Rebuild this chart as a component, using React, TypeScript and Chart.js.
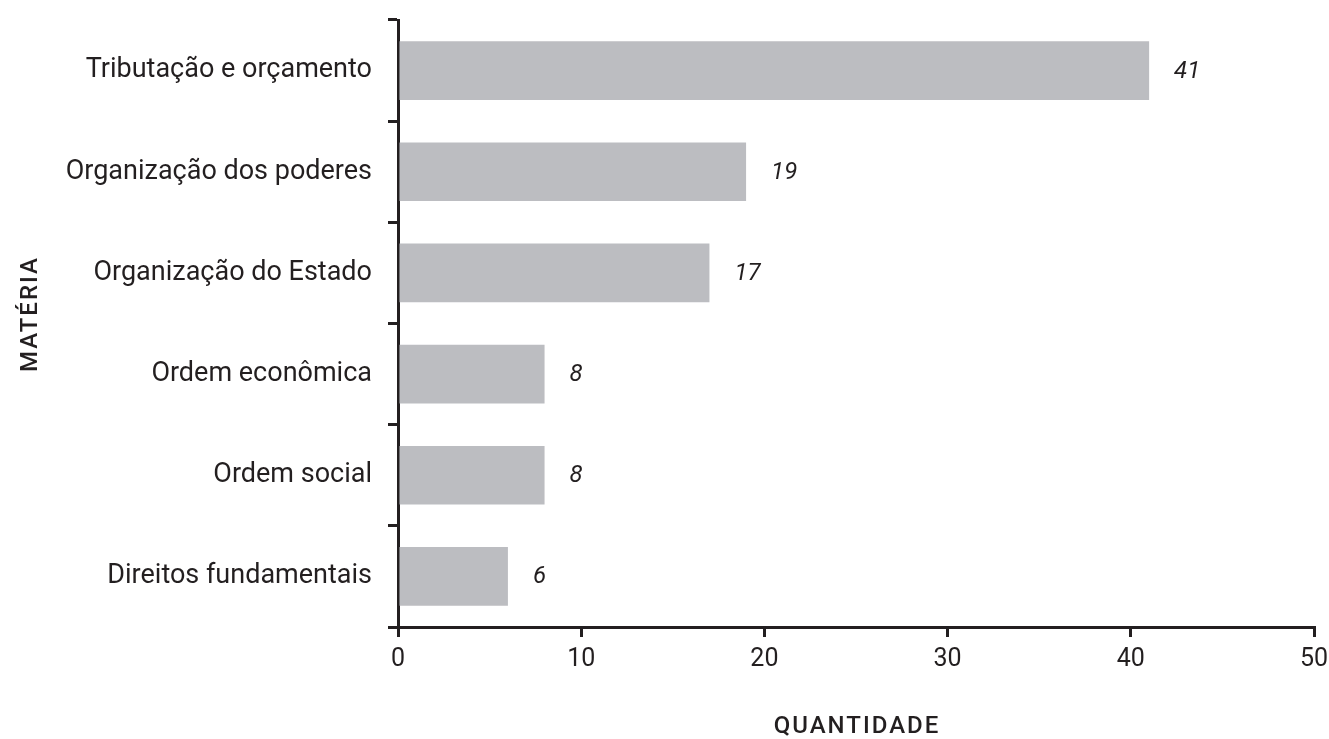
import React, { useEffect, useRef } from "react";
import { Chart, registerables } from "chart.js";

Chart.register(...registerables);

const categories = [
  "Tributação e orçamento",
  "Organização dos poderes",
  "Organização do Estado",
  "Ordem econômica",
  "Ordem social",
  "Direitos fundamentais",
];
const values = [41, 19, 17, 8, 8, 6];
const xTitle = "QUANTIDADE";
const yTitle = "MATÉRIA";

const INK = "#231f20";
const BAR = "#bcbdc1";
const FONT = "Roboto, 'DejaVu Sans', sans-serif";

const labelPlugin = {
  id: "valueLabels",
  afterDatasetsDraw(chart: any) {
    const ctx = chart.ctx;
    const meta = chart.getDatasetMeta(0);
    ctx.save();
    ctx.fillStyle = INK;
    ctx.font = `italic 24px ${FONT}`;
    ctx.textAlign = "left";
    ctx.textBaseline = "middle";
    meta.data.forEach((el: any, i: number) => {
      ctx.fillText(String(values[i]), el.x + 25, el.y + 1);
    });
    ctx.restore();
  },
};

const titlePlugin = {
  id: "axisTitles",
  afterDraw(chart: any) {
    const ctx = chart.ctx;
    const area = chart.chartArea;
    ctx.save();
    ctx.fillStyle = INK;
    ctx.font = `500 24px ${FONT}`;
    (ctx as any).letterSpacing = "2px";
    ctx.textAlign = "center";
    ctx.textBaseline = "middle";
    ctx.fillText(xTitle, (area.left + area.right) / 2 + 1, 727);
    ctx.translate(31, 314);
    ctx.rotate(-Math.PI / 2);
    ctx.fillText(yTitle, 0, 0);
    ctx.restore();
  },
};

export default function App() {
  const ref = useRef<HTMLCanvasElement | null>(null);
  useEffect(() => {
    if (!ref.current) return;
    const chart = new Chart(ref.current, {
      type: "bar",
      data: {
        labels: categories,
        datasets: [
          {
            data: values,
            backgroundColor: BAR,
            borderWidth: 0,
            barPercentage: 0.58,
            categoryPercentage: 1,
          },
        ],
      },
      options: {
        indexAxis: "y",
        animation: false,
        responsive: true,
        maintainAspectRatio: false,
        layout: { padding: { top: 20, right: 15, left: 0, bottom: 0 } },
        plugins: {
          legend: { display: false },
          tooltip: { enabled: false },
        },
        scales: {
          x: {
            min: 0,
            max: 50,
            ticks: {
              stepSize: 10,
              color: INK,
              font: { family: FONT, size: 25 },
              padding: 8,
            },
            grid: {
              drawOnChartArea: false,
              drawTicks: true,
              tickLength: 10,
              color: INK,
              lineWidth: 3,
            },
            border: { display: true, color: INK, width: 3 },
            afterFit(scale: any) {
              scale.height = 112;
              scale.paddingLeft = 0;
              scale.paddingRight = 0;
            },
          },
          y: {
            ticks: {
              color: INK,
              font: { family: FONT, size: 27 },
              padding: 16,
            },
            grid: {
              offset: true,
              drawOnChartArea: false,
              drawTicks: true,
              tickLength: 10,
              color: INK,
              lineWidth: 3,
            },
            border: { display: true, color: INK, width: 3 },
            afterFit(scale: any) {
              scale.width = 398;
              scale.paddingTop = 0;
              scale.paddingBottom = 0;
            },
          },
        },
      },
      plugins: [labelPlugin, titlePlugin],
    });
    return () => chart.destroy();
  }, []);
  return (
    <div style={{ position: "fixed", left: 0, top: 0, width: 1329, height: 739, background: "#fff" }}>
      <canvas ref={ref} />
    </div>
  );
}
